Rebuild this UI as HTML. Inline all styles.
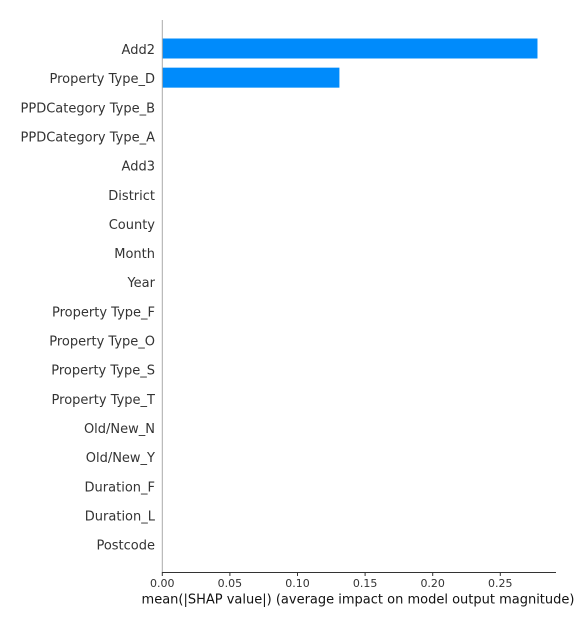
<!DOCTYPE html>
<html><head><meta charset="utf-8"><style>
body{margin:0;background:#fff;}
svg text{font-family:"DejaVu Sans","Liberation Sans",sans-serif;}
</style></head><body>
<svg id="chart" width="576" height="626" xmlns="http://www.w3.org/2000/svg">
<g id="plot"></g>
</svg>
<script>
const features=["Add2","Property Type_D","PPDCategory Type_B","PPDCategory Type_A","Add3","District","County","Month","Year","Property Type_F","Property Type_O","Property Type_S","Property Type_T","Old/New_N","Old/New_Y","Duration_F","Duration_L","Postcode"];
const values=[0.2775,0.131,0,0,0,0,0,0,0,0,0,0,0,0,0,0,0,0];
const xTicks=[0,0.05,0.10,0.15,0.20,0.25];
const xTickLabels=["0.00","0.05","0.10","0.15","0.20","0.25"];

const NS="http://www.w3.org/2000/svg";
const g=document.getElementById('plot');
const x0=162.3, pxPer=(500.3-162.3)/0.25;
const xs=v=>x0+v*pxPer;
const ys=i=>48.5+i*29.15;
function mk(t,a){const e=document.createElementNS(NS,t);for(const k in a)e.setAttribute(k,a[k]);g.appendChild(e);return e;}

features.forEach((f,i)=>{
  const r=mk('rect',{x:x0,y:ys(i)-10,width:Math.max(0,xs(values[i])-x0),height:20,fill:'#008bfb'});
  
  
  const t=mk('text',{x:155,y:ys(i)+5.5,'text-anchor':'end','font-size':'13',fill:'#333'});
  t.textContent=f;
  
  
});
const ys0=mk('line',{x1:x0,y1:20,x2:x0,y2:572,stroke:'#aaa','stroke-width':1});


const xa=mk('line',{x1:x0,y1:572.5,x2:556,y2:572.5,stroke:'#333','stroke-width':1});


xTicks.forEach((v,i)=>{
  const tk=mk('line',{x1:xs(v),y1:572,x2:xs(v),y2:576,stroke:'#333'});
  
  
  const t=mk('text',{x:xs(v),y:587,'text-anchor':'middle','font-size':'11',fill:'#333'});
  t.textContent=xTickLabels[i];
  
  
});
const xl=mk('text',{x:358,y:603.5,'text-anchor':'middle','font-size':'13',fill:'#111'});
xl.textContent="mean(|SHAP value|) (average impact on model output magnitude)";


</script>
</body></html>
